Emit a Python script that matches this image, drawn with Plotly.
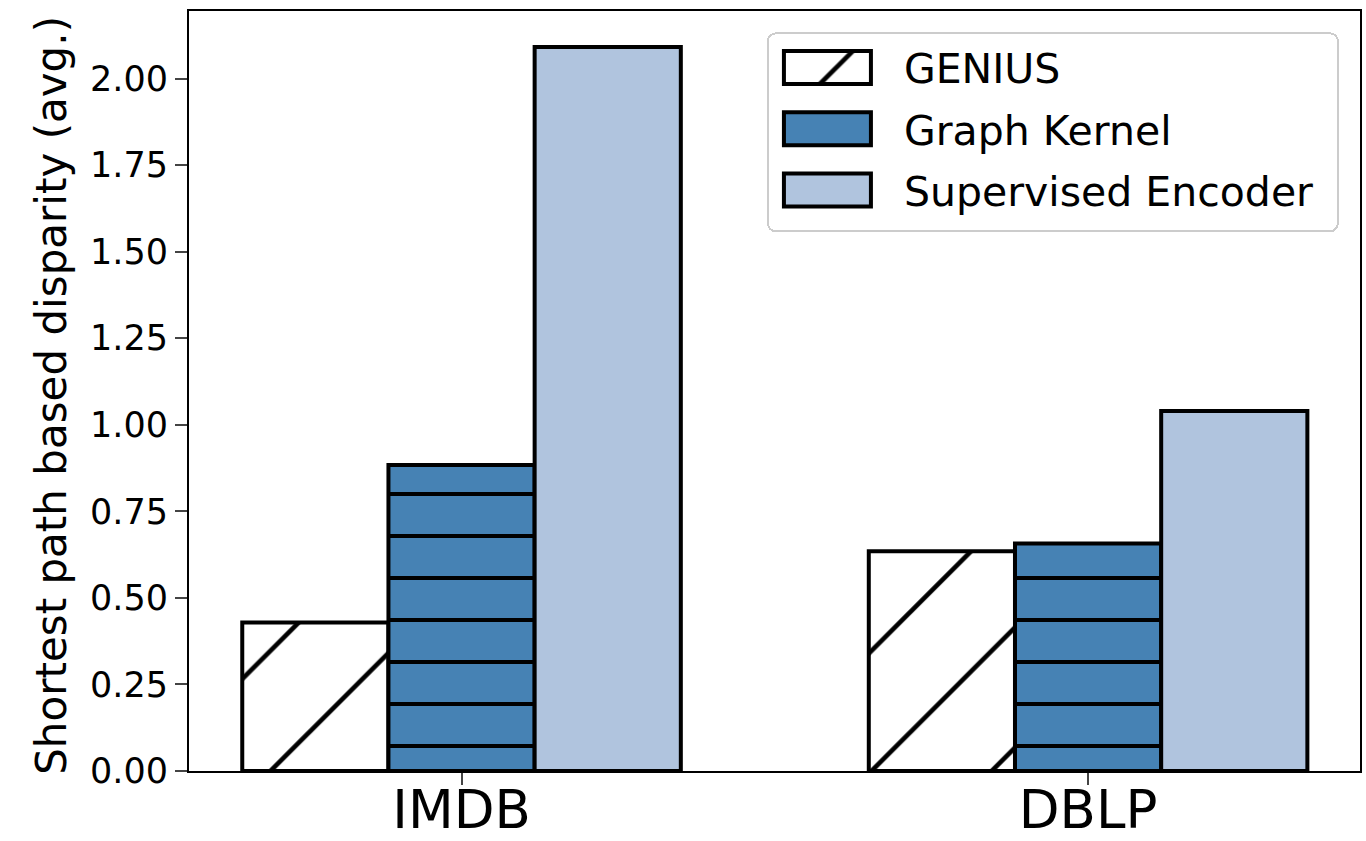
import plotly.graph_objects as go

# data
datasets = ["IMDB", "DBLP"]
methods = ["GENIUS", "Graph Kernel", "Supervised Encoder"]
genius = [0.429, 0.635]
graph_kernel = [0.884, 0.657]
supervised_encoder = [2.091, 1.040]

series = [genius, graph_kernel, supervised_encoder]
fills = ["white", "#4682B4", "#B0C4DE"]
hatch = [dict(shape="/", size=85, solidity=0.055, fgcolor="black", fgopacity=1, fillmode="overlay"),
         dict(shape="-", size=42, solidity=0.09, fgcolor="black", fgopacity=1, fillmode="overlay"),
         dict(shape="")]

fig = go.Figure()
for i, name in enumerate(methods):
    fig.add_trace(go.Bar(
        x=datasets, y=series[i], name=name,
        legendgroup=name,
        marker=dict(color=fills[i],
                    line=dict(color="black", width=4),
                    pattern=hatch[i]),
    ))

fig.update_layout(
    width=1366, height=841,
    barmode="group", bargap=0.3, bargroupgap=0,
    plot_bgcolor="white", paper_bgcolor="white",
    font=dict(family="DejaVu Sans", color="black", size=35),
    margin=dict(l=189, r=6, t=11, b=70),
    legend=dict(x=0.982, y=0.972, xanchor="right", yanchor="top",
                bordercolor="#cccccc", borderwidth=2, bgcolor="white",
                font=dict(size=41), traceorder="grouped", tracegroupgap=5,
                itemwidth=125),
)
fig.update_xaxes(range=[-0.435, 1.434], showline=True, linecolor="black", linewidth=2,
                 mirror=True, ticks="outside", ticklen=12, tickwidth=2,
                 tickfont=dict(size=53), automargin=False, ticklabelstandoff=-21)
fig.update_yaxes(range=[0, 2.195], showline=True, linecolor="black", linewidth=2,
                 mirror=True, ticks="outside", ticklen=12, tickwidth=2,
                 showgrid=False, zeroline=False, automargin=False,
                 tickvals=[0, 0.25, 0.5, 0.75, 1.0, 1.25, 1.5, 1.75, 2.0],
                 ticktext=["0.00", "0.25", "0.50", "0.75", "1.00", "1.25", "1.50", "1.75", "2.00"])

# y axis title as a rotated annotation so it sits where matplotlib put it
fig.add_annotation(text="Shortest path based disparity (avg.)", textangle=-90,
                   xref="paper", yref="paper", x=-0.117, y=0.495,
                   xanchor="center", yanchor="middle", showarrow=False,
                   font=dict(size=42))

# page without body margin, and wide matplotlib-like legend patches
post = """
document.body.style.margin = '0';
var gd = document.getElementById('{plot_id}');
function fixLegend() {
  var bars = gd.querySelectorAll('.barlayer .trace');
  var legs = gd.querySelectorAll('.legend .traces');
  legs.forEach(function(g, i) {
    var p = g.querySelector('.legendpoints path');
    if (!p) return;
    p.setAttribute('d', 'M34.5,16.5H-52.5V-16.5H34.5Z');
    var bp = bars[i] ? bars[i].querySelector('path') : null;
    if (bp) p.style.fill = bp.style.fill;
    p.style.strokeWidth = '4px';
    p.style.stroke = 'black';
  });
  var leg = gd.querySelector('.legend');
  var bg = gd.querySelector('.legend .bg');
  if (bg && !bg.dataset.fixed) {
    bg.dataset.fixed = '1';
    bg.setAttribute('rx', 8); bg.setAttribute('ry', 8);
    var w = parseFloat(bg.getAttribute('width'));
    var h = parseFloat(bg.getAttribute('height'));
    var extra = 570 - w;
    bg.setAttribute('width', w + extra);
    bg.setAttribute('height', h + 7);
    var m = /translate\\(([-\\d.]+),\\s*([-\\d.]+)\\)/.exec(leg.getAttribute('transform'));
    if (m) leg.setAttribute('transform', 'translate(' + (parseFloat(m[1]) - extra) + ',' + m[2] + ')');
  }
}
fixLegend();
"""

fig.write_html("out.html", post_script=post, config={"displayModeBar": False})
